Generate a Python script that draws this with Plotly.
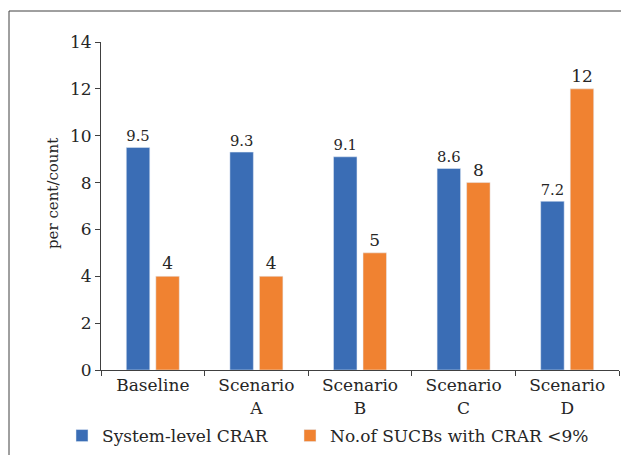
import plotly.graph_objects as go

categories = ["Baseline", "Scenario<br>A", "Scenario<br>B", "Scenario<br>C", "Scenario<br>D"]
crar = [9.5, 9.3, 9.1, 8.6, 7.2]
crar_labels = ["9.5", "9.3", "9.1", "8.6", "7.2"]
sucbs = [4, 4, 5, 8, 12]
sucbs_labels = ["4", "4", "5", "8", "12"]
series_names = ["System-level CRAR", "No.of SUCBs with CRAR <9%"]
y_ticks = [0, 2, 4, 6, 8, 10, 12, 14]

FONT = "DejaVu Serif"
TXT = "#262626"
BLUE = "#3A6DB5"
ORANGE = "#F08231"

# the page body has an 8px default margin; size the figure to fit the window
OFF = 8
W, H = 629 - OFF, 455 - OFF
ML, MR, MT, MB = 101 - OFF, 10, 42 - OFF, 85
PW, PH = W - ML - MR, H - MT - MB

def px(x):  # screen x -> paper
    return (x - OFF - ML) / PW

def py(y):  # screen y -> paper
    return (H - MB - (y - OFF)) / PH

fig = go.Figure()
fig.add_trace(go.Bar(
    x=categories, y=crar, name=series_names[0], marker_color=BLUE,
    text=crar_labels, textposition="outside", cliponaxis=False,
    textfont=dict(family=FONT, size=17, color=TXT), legend="legend",
))
fig.add_trace(go.Bar(
    x=categories, y=sucbs, name=series_names[1], marker_color=ORANGE,
    text=sucbs_labels, textposition="outside", cliponaxis=False,
    textfont=dict(family=FONT, size=17, color=TXT), legend="legend2",
))

leg_common = dict(
    orientation="h", yanchor="middle", y=py(436), xanchor="left",
    font=dict(family=FONT, size=17, color=TXT), bgcolor="rgba(0,0,0,0)",
)

fig.update_layout(
    width=W, height=H,
    margin=dict(l=ML, r=MR, t=MT, b=MB, autoexpand=False),
    paper_bgcolor="white", plot_bgcolor="white",
    font=dict(family=FONT, size=17, color=TXT),
    barmode="group", bargap=0.43, bargroupgap=0.205,
    showlegend=True,
    legend=dict(x=px(62), **leg_common),
    legend2=dict(x=px(290), **leg_common),
    xaxis=dict(
        showline=True, linecolor="#404040", linewidth=1, automargin=False,
        ticks="outside", tickson="boundaries", ticklen=5, tickcolor="#404040",
        showgrid=False, tickfont=dict(family=FONT, size=17, color=TXT),
    ),
    yaxis=dict(
        range=[0, 14], tickvals=y_ticks, showline=True, linecolor="#404040", linewidth=1,
        automargin=False, ticks="outside", ticklen=5, tickcolor="#404040",
        showgrid=False, zeroline=False, tickfont=dict(family=FONT, size=17, color=TXT),
    ),
    annotations=[dict(
        text="per cent/count", textangle=-90, xref="paper", yref="paper",
        x=px(53), y=py(194), showarrow=False, xanchor="center", yanchor="middle",
        font=dict(family=FONT, size=15, color=TXT),
    )],
    shapes=[
        dict(type="line", xref="paper", yref="paper", x0=px(9), x1=px(640), y0=py(11), y1=py(11),
             line=dict(color="#404040", width=1)),
        dict(type="line", xref="paper", yref="paper", x0=px(9), x1=px(9), y0=py(11), y1=py(470),
             line=dict(color="#404040", width=1)),
    ],
)

fig.write_html("out.html")
